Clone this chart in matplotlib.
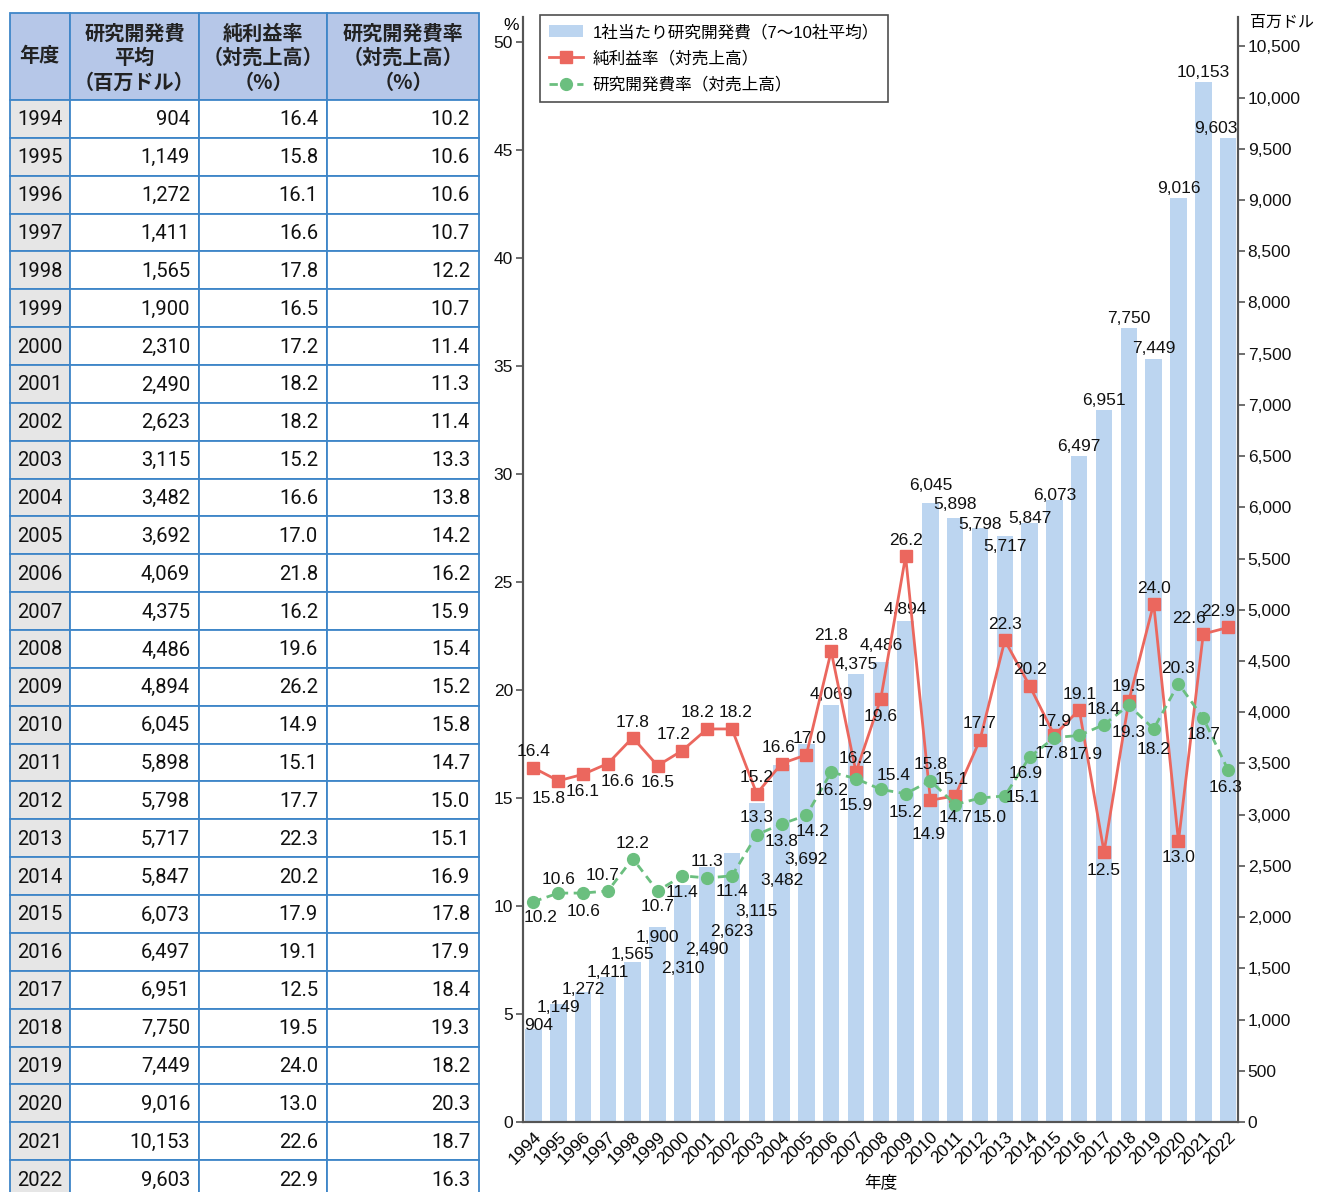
import matplotlib
matplotlib.use('Agg')
import matplotlib.pyplot as plt
import numpy as np
from matplotlib.patches import Rectangle, Patch
from matplotlib.lines import Line2D
from matplotlib.ticker import FuncFormatter

plt.rcParams['font.family'] = ['Liberation Sans', 'Noto Sans CJK JP']

years = list(range(1994, 2023))
rd_avg = [904, 1149, 1272, 1411, 1565, 1900, 2310, 2490, 2623, 3115, 3482, 3692, 4069, 4375,
          4486, 4894, 6045, 5898, 5798, 5717, 5847, 6073, 6497, 6951, 7750, 7449, 9016, 10153, 9603]
profit = [16.4, 15.8, 16.1, 16.6, 17.8, 16.5, 17.2, 18.2, 18.2, 15.2, 16.6, 17.0, 21.8, 16.2,
          19.6, 26.2, 14.9, 15.1, 17.7, 22.3, 20.2, 17.9, 19.1, 12.5, 19.5, 24.0, 13.0, 22.6, 22.9]
rd_rate = [10.2, 10.6, 10.6, 10.7, 12.2, 10.7, 11.4, 11.3, 11.4, 13.3, 13.8, 14.2, 16.2, 15.9,
           15.4, 15.2, 15.8, 14.7, 15.0, 15.1, 16.9, 17.8, 17.9, 18.4, 19.3, 18.2, 20.3, 18.7, 16.3]

col_headers = [["年度"], ["研究開発費", "平均", "（百万ドル）"],
               ["純利益率", "（対売上高）", "（%）"], ["研究開発費率", "（対売上高）", "（%）"]]
legend_labels = ["1社当たり研究開発費（7〜10社平均）", "純利益率（対売上高）", "研究開発費率（対売上高）"]

# label offsets in pixels (dx, dy; dy downwards)
bar_off = [(5, -4), (0, 3), (0, -2), (0, -5), (0, -7), (0, 10), (0, 83), (0, 83), (0, 78),
           (0, 109), (0, 115), (0, 116), (0, -11), (0, -9), (0, -17), (0, -11), (0, -17),
           (0, -13), (0, -4), (0, 10), (0, -4), (0, -4), (0, -10), (0, -9), (0, -10), (0, -10),
           (0, -10), (0, -9), (-12, -10)]
red_off = [(0, -16), (-10, 18), (0, 17), (10, 18), (0, -15), (0, 17), (-9, -16), (-10, -16),
           (4, -16), (0, -16), (-3, -16), (3, -16), (0, -16), (0, -14), (0, 18), (0, -16),
           (-2, 34), (-4, -16), (0, -16), (0, -16), (0, -16), (0, -14), (0, -15), (0, 18),
           (0, -14), (0, -15), (0, 16), (-14, -15), (-10, -16)]
green_off = [(7, 16), (0, -14), (0, 18), (-5, -15), (0, -15), (0, 16), (0, 17), (0, -16),
             (0, 16), (0, -17), (0, 18), (6, 16), (0, 18), (0, 27), (13, -14), (0, 19),
             (0, -16), (0, 13), (10, 19), (18, 2), (-4, 16), (-3, 16), (6, 19), (0, -15),
             (0, 27), (0, 21), (0, -15), (0, 16), (-3, 18)]

W, H = 1317, 1192
fig = plt.figure(figsize=(W / 100, H / 100), dpi=100)

# ---- table on the left ----
tab = fig.add_axes([0, 0, 1, 1])
tab.set_xlim(0, W)
tab.set_ylim(H, 0)
tab.axis('off')

edges = [9.5, 70, 199, 327, 479]
head_top, head_bot = 12.5, 100
row_h = 37.86
line_c = '#3f86c8'

for c in range(4):
    tab.add_patch(Rectangle((edges[c], head_top), edges[c + 1] - edges[c], head_bot - head_top,
                            facecolor='#b6c7e8', edgecolor=line_c, lw=1.3))
    lines = col_headers[c]
    if len(lines) == 1:
        ys = [56]
    else:
        ys = [33, 57.5, 82]
    for txt, yy in zip(lines, ys):
        tab.text((edges[c] + edges[c + 1]) / 2, yy, txt, ha='center', va='center',
                 fontsize=14.5, fontweight='bold', color='#222222',
                 family=['Noto Sans CJK JP'])

for i, yr in enumerate(years):
    top = head_bot + i * row_h
    for c in range(4):
        fc = '#e6e6e6' if c == 0 else 'white'
        tab.add_patch(Rectangle((edges[c], top), edges[c + 1] - edges[c], row_h,
                                facecolor=fc, edgecolor=line_c, lw=1.3))
    yc = top + row_h / 2 + 1
    fkw = dict(fontsize=14.5, va='center', color='#111111', family=['Roboto'])
    tab.text((edges[0] + edges[1]) / 2, yc, str(yr), ha='center', **fkw)
    tab.text(edges[2] - 9, yc, f"{rd_avg[i]:,}", ha='right', **fkw)
    tab.text(edges[3] - 9, yc, f"{profit[i]:.1f}", ha='right', **fkw)
    tab.text(edges[4] - 9, yc, f"{rd_rate[i]:.1f}", ha='right', **fkw)

# ---- chart on the right ----
ax_l, ax_r, ax_b, ax_t = 522.7, 1238, 1122, 16.5
ax = fig.add_axes([ax_l / W, 1 - ax_b / H, (ax_r - ax_l) / W, (ax_b - ax_t) / H])
x = np.arange(len(years))

bar_c = '#bcd5f0'
red_c = '#eb675e'
green_c = '#6bbf7f'
fs = 12.5

ax.bar(x, rd_avg, width=0.665, color=bar_c, zorder=1)
ax.set_ylim(0, 10791)
ax.set_xlim(-0.435, 28.4)

axp = ax.twinx()
axp.set_ylim(0, 51.19)
axp.set_yticks(np.arange(0, 51, 5))
axp.plot(x, profit, color=red_c, lw=2.0, marker='s', markersize=9, zorder=3)
axp.plot(x, rd_rate, color=green_c, lw=2.0, ls=(0, (3, 2)), marker='o', markersize=8.5, zorder=3)

# bars use the right axis, rates the left one
ax.yaxis.tick_right()
ax.set_yticks(np.arange(0, 10501, 500))
ax.yaxis.set_major_formatter(FuncFormatter(lambda v, p: f"{int(v):,}"))
axp.yaxis.tick_left()

for a in (ax, axp):
    a.spines['top'].set_visible(False)
    for s in ('left', 'right', 'bottom'):
        a.spines[s].set_color('#555555')
        a.spines[s].set_linewidth(1.5)
    a.tick_params(axis='y', length=5, width=1.2, color='#555555', labelsize=fs, pad=2,
                  labelcolor='#111111')

ax.set_xticks(x)
ax.set_xticklabels([str(y) for y in years], rotation=45, ha='right', rotation_mode='anchor',
                   fontsize=12.5)
ax.tick_params(axis='x', length=0, pad=5)
ax.set_xlabel("年度", fontsize=12, labelpad=5)

# value labels
for i in range(len(years)):
    dx, dy = bar_off[i]
    ax.annotate(f"{rd_avg[i]:,}", (x[i], rd_avg[i]), xytext=(dx, -dy),
                textcoords='offset pixels', ha='center', va='center', fontsize=fs,
                color='#111111', zorder=2)
    dx, dy = red_off[i]
    axp.annotate(f"{profit[i]:.1f}", (x[i], profit[i]), xytext=(dx, -dy),
                 textcoords='offset pixels', ha='center', va='center', fontsize=fs,
                 color='#111111', zorder=4)
    dx, dy = green_off[i]
    axp.annotate(f"{rd_rate[i]:.1f}", (x[i], rd_rate[i]), xytext=(dx, -dy),
                 textcoords='offset pixels', ha='center', va='center', fontsize=fs,
                 color='#111111', zorder=4)

# axis unit labels
fig.text(511 / W, 1 - 25 / H, "%", ha='center', va='center', fontsize=fs)
fig.text(1250 / W, 1 - 22 / H, "百万ドル", ha='left', va='center', fontsize=11.5,
         family=['Noto Sans CJK JP'])

handles = [Patch(facecolor=bar_c, edgecolor='none'),
           Line2D([], [], color=red_c, lw=2.0, marker='s', markersize=9),
           Line2D([], [], color=green_c, lw=2.0, ls=(0, (3, 2)), marker='o', markersize=8.5)]
leg = axp.legend(handles, legend_labels, loc='upper left',
                 bbox_to_anchor=(540 / W, 1 - 15 / H), bbox_transform=fig.transFigure,
                 frameon=True, fancybox=False, borderaxespad=0,
                 handlelength=2.0, handletextpad=0.6, borderpad=0.55, labelspacing=0.62,
                 prop={'family': ['Liberation Sans', 'Noto Sans CJK JP'], 'size': 12})
leg.get_frame().set_edgecolor('#222222')
leg.get_frame().set_linewidth(1.2)

fig.savefig('out.png', dpi=100)
